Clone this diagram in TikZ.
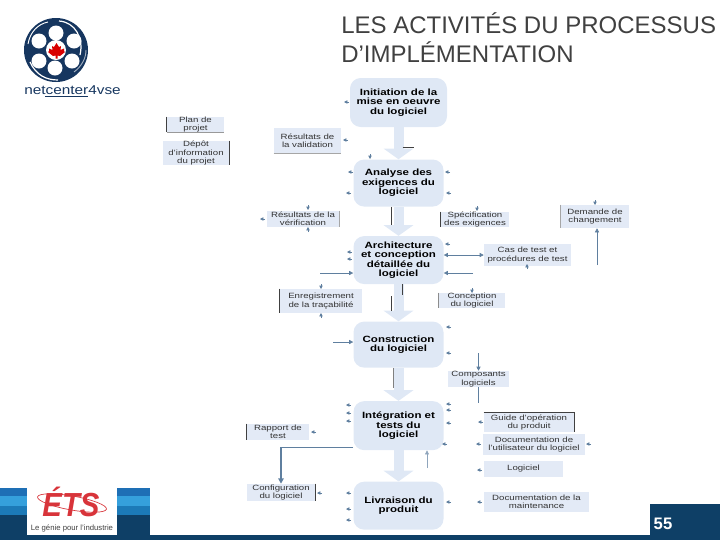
\documentclass[tikz,border=0pt]{standalone}
\usepackage{fontspec}
\setmainfont{Liberation Sans}
\newfontfamily\diagfont[FakeStretch=1.27]{Liberation Sans}
\newfontfamily\logofont[FakeStretch=1.2]{Liberation Sans}
\newfontfamily\etsfont[FakeStretch=0.88]{Liberation Sans}
\usetikzlibrary{positioning, arrows.meta}
\definecolor{boxblue}{HTML}{DFE8F5}
\definecolor{sideblue}{HTML}{E3EAF6}
\definecolor{navy}{HTML}{0E3F66}
\definecolor{bandone}{HTML}{1E6FB5}
\definecolor{bandtwo}{HTML}{35A0DC}
\definecolor{bandthree}{HTML}{1C7AB8}
\definecolor{linkblue}{HTML}{5F7F9F}
\definecolor{logonavy}{HTML}{16365F}
\definecolor{etsred}{HTML}{D8343A}

\begin{document}
\begin{tikzpicture}[
                x=0.75pt, y=-0.75pt,
                mainbox/.style={rectangle, fill=boxblue, rounded corners=8pt, minimum width=67.5pt, align=center, inner sep=0pt, font=\diagfont\bfseries\fontsize{6.8}{7.1}\selectfont},
                sidebox/.style 2 args={rectangle, fill=sideblue, minimum width=#1*0.75pt, minimum height=#2*0.75pt, align=center, inner sep=0pt, text=black!80, font=\diagfont\fontsize{5.7}{6.2}\selectfont},
                bigarr/.style={-{Triangle[width=22pt, length=8pt]}, line width=7.5pt, boxblue},
                link/.style={-{Triangle[length=3pt, width=3pt]}, thin, linkblue},
                stub/.style={-{Triangle[length=2.5pt, width=2.5pt]}, line width=0.5pt, linkblue},
                edgeline/.style={line width=0.6pt, black!75}
            ]
            \useasboundingbox (0,0) rectangle (720,540);

            % bands of the slide
            \fill[navy] (650,504) rectangle (720,540);
            \fill[navy] (0,535) rectangle (720,540);
            \fill[bandone] (0,488) rectangle (150,496);
            \fill[bandtwo] (0,496) rectangle (150,506);
            \fill[bandthree] (0,506) rectangle (150,515);
            \fill[navy] (0,515) rectangle (150,540);
            \node[text=white, font=\bfseries\fontsize{12.5}{14}\selectfont] (pagenum) at (663,524) {55};

            % title
            \node[anchor=west, align=left, inner sep=0pt, text=black!75, font=\fontsize{18}{21.75}\selectfont] (title) at (341,38) {LES ACTIVITÉS DU PROCESSUS\\D’IMPLÉMENTATION};

            % logo top left
            \fill[logonavy] (56,50) circle (32);
            \draw[white, line width=0.9pt] (59,21) .. controls (75,22) and (84,38) .. (80,55);
            \draw[white, line width=0.9pt] (30,62) .. controls (36,75) and (46,80) .. (58,80);
            \draw[white, line width=0.7pt] (28,44) .. controls (30,32) and (38,24) .. (48,22);
            \draw[white!60!logonavy, line width=0.7pt] (74,72) .. controls (82,66) and (86,58) .. (86,50);
            \foreach \cx/\cy in {56/33, 74/41, 72/61, 55/68, 39/61, 39/41}
                \fill[white] (\cx,\cy) circle (7.5);
            \fill[white] (56,50) circle (10);
            \fill[red!85!black] (56.5,43) -- (59,47) -- (61,46) -- (60.5,50) -- (64,48.5) -- (64,51) -- (65,52)
                -- (60,56) -- (57.5,55.5) -- (57.5,58.5) -- (55.5,58.5) -- (55.5,55.5) -- (53,56) -- (48,52) -- (49,51) -- (49,48.5)
                -- (52.5,50) -- (52,46) -- (54,47) -- cycle;
            \node[text=logonavy, inner sep=0pt, font=\logofont\fontsize{9.6}{10}\selectfont] (logotext) at (72.5,90.5) {netcenter4vse};
            \draw[logonavy, line width=0.5pt] (45,96.5) -- (88,96.5);

            % logo bottom left
            \fill[white] (27,483) rectangle (117,535);
            \draw[etsred, line width=0.5pt, rotate around={-10:(72,503)}] (72,503) ellipse (35 and 7);
            \node[text=etsred, inner sep=0pt, font=\etsfont\bfseries\itshape\fontsize{25}{25}\selectfont] (etsname) at (71,502) {ÉTS};
            \node[text=black!75, inner sep=0pt, font=\fontsize{5.8}{6}\selectfont] (etstext) at (72,528.5) {Le génie pour l’industrie};

            % main column
            \node[mainbox, minimum width=72.75pt, minimum height=36.75pt] (init) at (398.5,102.5) {Initiation de la\\mise en oeuvre\\du logiciel};
            \node[mainbox, minimum height=35.25pt, below=24pt of init] (analyse) {Analyse des\\exigences du\\logiciel};
            \node[mainbox, minimum height=36pt, below=21.75pt of analyse] (archi) {Architecture\\et conception\\détaillée du\\logiciel};
            \node[mainbox, minimum height=34.5pt, below=27.75pt of archi] (constr) {Construction\\du logiciel};
            \node[mainbox, minimum height=36.75pt, below=24.75pt of constr] (integ) {Intégration et\\tests du\\logiciel};
            \node[mainbox, minimum height=36pt, below=23.25pt of integ] (livr) {Livraison du\\produit};
            \draw[bigarr] (init) -- (analyse);
            \draw[bigarr] (analyse) -- (archi);
            \draw[bigarr] (archi) -- (constr);
            \draw[bigarr] (constr) -- (integ);
            \draw[bigarr] (integ) -- (livr);

            % boxes on the sides
            \node[sidebox={57}{15}] (plan) at (195.5,124.5) {Plan de\\projet};
            \node[sidebox={66}{24}] (depot) at (196,153) {Dépôt\\d’information\\du projet};
            \node[sidebox={67}{25}] (valid) at (307.5,140.5) {Résultats de\\la validation};
            \node[sidebox={72}{16}] (verif) at (303,219) {Résultats de la\\vérification};
            \node[sidebox={68}{15}] (spec) at (475,219.5) {Spécification\\des exigences};
            \node[sidebox={68}{23}] (change) at (595,216.5) {Demande de\\changement};
            \node[sidebox={87}{22}] (cas) at (527.5,255) {Cas de test et\\procédures de test};
            \node[sidebox={82}{24}] (trace) at (321,301) {Enregistrement\\de la traçabilité};
            \node[sidebox={66}{15}] (concep) at (472,300.5) {Conception\\du logiciel};
            \node[sidebox={61}{16}] (comp) at (478.5,379) {Composants\\logiciels};
            \node[sidebox={62}{16}] (rapport) at (278,432) {Rapport de\\test};
            \node[sidebox={68}{17}] (config) at (281,492.5) {Configuration\\du logiciel};
            \node[sidebox={90}{19}] (guide) at (529,422.5) {Guide d’opération\\du produit};
            \node[sidebox={102}{21}] (docuser) at (534,444.5) {Documentation de\\l’utilisateur du logiciel};
            \node[sidebox={79}{16}] (soft) at (523.5,469) {Logiciel};
            \node[sidebox={105}{20}] (docmaint) at (536.5,502) {Documentation de la\\maintenance};

            % dark edges of the boxes
            \draw[edgeline] (plan.north west) -- (plan.south west);
            \draw[edgeline, black!40] (plan.south west) -- (plan.south east);
            \draw[edgeline] (depot.north east) -- (depot.south east);
            \draw[edgeline, black!35] (valid.south west) -- (valid.south east);
            \draw[edgeline, black!35] (verif.north east) -- (verif.south east);
            \draw[edgeline] (spec.north west) -- (spec.south west);
            \draw[edgeline, black!35] (change.north west) -- (change.south west);
            \draw[edgeline] (trace.north west) -- (trace.south west);
            \draw[edgeline, black!45] (concep.north west) -- (concep.south west);
            \draw[edgeline] (rapport.north west) -- (rapport.south west);
            \draw[edgeline] (config.north east) -- (config.south east);
            \draw[edgeline] (guide.north west) -- (guide.north east) -- (guide.south east);

            % dark edges of the big arrows
            \draw[edgeline] ([xshift=3pt, yshift=-15pt]init.south) -- ++(11,0);
            \draw[edgeline] ([xshift=-5pt]analyse.south) -- ++(0,18);
            \draw[edgeline] ([xshift=-5pt, yshift=-9pt]archi.south) -- ++(0,15);
            \draw[edgeline] ([xshift=3pt]archi.south) -- ++(0,11);
            \draw[edgeline, black!50] ([xshift=-3.5pt]constr.south) -- ++(0,20);

            % thin connectors
            \coordinate (chgfrom) at (597,265);
            \draw[link] (chgfrom) -- (chgfrom |- change.south);
            \draw[{Triangle[length=3pt, width=3pt]}-{Triangle[length=3pt, width=3pt]}, thin, linkblue] (archi.east |- cas.west) -- (cas.west);
            \coordinate (arleft) at (320,273);
            \draw[link] (arleft) -- (arleft -| archi.west);
            \coordinate (arright) at (473,273);
            \draw[link] (arright) -- (arright -| archi.east);
            \coordinate (coleft) at (333,342);
            \draw[link] (coleft) -- (coleft -| constr.west);
            \coordinate (compfrom) at (478.5,353);
            \draw[link] (compfrom) -- (comp.north);
            \coordinate (compto) at (478.5,403);
            \draw[linkblue, thin] (comp.south) -- (compto);
            \draw[-{Triangle[length=4pt, width=4pt]}, line width=0.9pt, linkblue] ([yshift=2.25pt]integ.south west) -| (config.north);
            \coordinate (livfrom) at (427,468);
            \draw[link, linkblue!70] (livfrom) -- (livfrom |- integ.south);

            % small loose arrows
            \foreach \sx/\sy in {349/102, 348/140, 353/172, 351/193, 265/219, 450/172, 451/193, 450/244, 352/252, 352/259,
                                 451/327, 451/353, 351/405, 351/413, 351/421, 451/404, 451/410, 451/423, 447/444,
                                 316/432, 483/422, 481/444, 591/444, 482/470, 322/493, 351/493, 351/509, 351/520, 451/502, 482/502}
                \draw[stub] (\sx,\sy) -- ++(-5,0);
            \foreach \sx/\sy/\sdir in {370/154/5, 308/205/5, 308/232/-5, 477/206/5, 595/200/5, 527/269/-5, 321/284/5, 321/318/-5, 472/288/5}
                \draw[stub] (\sx,\sy) -- ++(0,\sdir);
        \end{tikzpicture}
\end{document}
